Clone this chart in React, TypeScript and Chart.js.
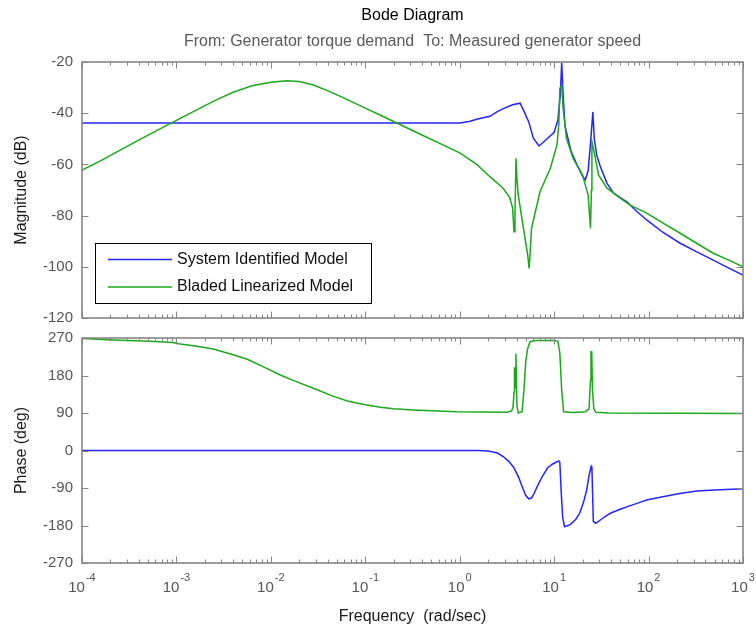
import React, { useEffect, useRef } from "react";
import { Chart, registerables } from "chart.js";

Chart.register(...registerables);

// ---------------- data (x values are log10 of frequency in rad/sec) ----------------
const magTicks = [-20, -40, -60, -80, -100, -120];
const phaseTicks = [270, 180, 90, 0, -90, -180, -270];
const decadeExponents = [-4, -3, -2, -1, 0, 1, 2, 3];

const seriesNames = ["System Identified Model", "Bladed Linearized Model"];

const sysIdMagLogW = [-4, 0, 0.1, 0.2, 0.32, 0.39, 0.45, 0.56, 0.64, 0.68, 0.73, 0.78, 0.84, 0.92, 1.0, 1.04, 1.065, 1.08, 1.095, 1.115, 1.18, 1.24, 1.3, 1.33, 1.36, 1.39, 1.41, 1.425, 1.45, 1.49, 1.56, 1.63, 1.7, 1.77, 1.85, 1.98, 2.15, 2.33, 2.5, 2.68, 2.85, 3.0];
const sysIdMagDb = [-43.8, -43.8, -43.2, -42.2, -41.2, -39.6, -38.4, -36.7, -36.1, -39.2, -43.3, -49.8, -52.8, -50.2, -47.5, -42.5, -33, -20.3, -33, -45, -55, -60, -64.5, -66, -62.5, -49.5, -39.5, -50, -56.3, -60.9, -67.4, -71.2, -73, -74.6, -77.5, -81.7, -86.5, -90.7, -94, -97.3, -100.5, -103.2];

const bladedMagLogW = [-4, -3.8, -3.6, -3.4, -3.2, -3.0, -2.8, -2.6, -2.4, -2.2, -2.0, -1.83, -1.7, -1.55, -1.4, -1.2, -1.0, -0.8, -0.6, -0.4, -0.2, 0.0, 0.18, 0.32, 0.46, 0.53, 0.56, 0.575, 0.585, 0.596, 0.605, 0.62, 0.675, 0.72, 0.735, 0.745, 0.76, 0.85, 0.96, 1.03, 1.05, 1.06, 1.08, 1.095, 1.13, 1.2, 1.3, 1.36, 1.385, 1.395, 1.4, 1.43, 1.47, 1.56, 1.7, 1.8, 1.98, 2.15, 2.33, 2.5, 2.68, 2.85, 3.0];
const bladedMagDb = [-62.2, -58.5, -54.5, -50.5, -46.6, -42.8, -39, -35.2, -31.8, -29.3, -27.9, -27.3, -27.6, -29, -31.2, -34.5, -38, -41.5, -45, -48.5, -52, -55.5, -60, -64.8, -69.3, -73, -77, -86.3, -80, -57.6, -65, -72, -85, -95.4, -100.6, -95, -85, -70.7, -61.5, -52.4, -44, -30.3, -29.2, -38, -49.8, -57.6, -64.1, -72, -85, -70, -51.1, -56.3, -64.1, -69.3, -73.2, -75.8, -79, -82.8, -86.8, -90.6, -94.6, -97.4, -100];

const sysIdPhaseLogW = [-4, 0.2, 0.3, 0.4, 0.46, 0.52, 0.57, 0.62, 0.67, 0.7, 0.73, 0.76, 0.79, 0.83, 0.88, 0.93, 0.98, 1.03, 1.05, 1.06, 1.075, 1.09, 1.11, 1.17, 1.23, 1.27, 1.31, 1.345, 1.37, 1.385, 1.392, 1.4, 1.415, 1.44, 1.5, 1.55, 1.6, 1.7, 1.8, 1.9, 1.98, 2.15, 2.33, 2.51, 2.7, 3.0];
const sysIdPhaseDeg = [0, 0, -1, -6, -14.5, -26, -40, -62, -92, -108, -116, -114, -102, -82, -60, -42, -33, -27, -25, -28, -100, -160, -182.9, -178, -165, -150.7, -125, -94.4, -60, -45, -38, -42, -170, -174.8, -165, -157, -150, -141, -133, -125, -119, -111, -103, -97, -95, -92];

const bladedPhaseLogW = [-4, -3.67, -3.28, -3.04, -2.96, -2.8, -2.61, -2.4, -2.25, -2.1, -1.9, -1.75, -1.55, -1.35, -1.19, -1.0, -0.84, -0.7, -0.49, -0.03, 0.5, 0.55, 0.565, 0.575, 0.58, 0.588, 0.595, 0.605, 0.62, 0.66, 0.68, 0.7, 0.72, 0.745, 0.8, 1.0, 1.04, 1.06, 1.08, 1.1, 1.2, 1.33, 1.37, 1.385, 1.39, 1.398, 1.405, 1.42, 1.44, 1.57, 3.0];
const bladedPhaseDeg = [269, 265, 262, 259, 255.6, 251, 243.6, 230, 218.9, 203, 181.2, 167, 149.3, 131, 118.8, 110, 103.7, 100, 97.2, 93.1, 92, 95, 105, 140, 200, 150, 232, 110, 90, 93, 145, 215, 245, 261, 264, 264, 262, 235, 145, 93, 91, 93, 100, 170, 237, 237, 150, 100, 92, 90, 89];

// ---------------- style / layout ----------------
const W = 756;
const H = 631;
const FONT = '"Liberation Sans", Arial, Helvetica, sans-serif';
const BLUE = "#2424ff";
const GREEN = "#1ca81c";
const FRAME = "#858585";
const TICK_TEXT = "#555555";
const LABEL_TEXT = "#1a1a1a";

const toPoints = (logW: number[], vals: number[]) =>
  logW.map((lw, i) => ({ x: Math.pow(10, lw), y: vals[i] }));

function drawAxesBox(chart: any, yTicks: number[]) {
  const { ctx, chartArea: a, scales } = chart;
  const xs = scales.x;
  const ys = scales.y;
  ctx.save();
  ctx.strokeStyle = FRAME;
  ctx.lineWidth = 1;
  ctx.beginPath();
  const dMin = decadeExponents[0];
  const dMax = decadeExponents[decadeExponents.length - 1];
  for (let d = dMin; d <= dMax; d++) {
    for (let k = 1; k <= 9; k++) {
      if (d === dMax && k > 1) break;
      const px = Math.round(xs.getPixelForValue(k * Math.pow(10, d))) + 0.5;
      const len = k === 1 ? 6.5 : 3.5;
      ctx.moveTo(px, a.top);
      ctx.lineTo(px, a.top + len);
      ctx.moveTo(px, a.bottom);
      ctx.lineTo(px, a.bottom - len);
    }
  }
  for (const t of yTicks) {
    const py = Math.round(ys.getPixelForValue(t)) + 0.5;
    ctx.moveTo(a.left, py);
    ctx.lineTo(a.left + 6.5, py);
    ctx.moveTo(a.right, py);
    ctx.lineTo(a.right - 6.5, py);
  }
  ctx.stroke();
  ctx.lineWidth = 1.6;
  ctx.strokeRect(a.left, a.top, a.right - a.left, a.bottom - a.top);
  ctx.fillStyle = TICK_TEXT;
  ctx.font = `15px ${FONT}`;
  ctx.textAlign = "right";
  ctx.textBaseline = "middle";
  for (const t of yTicks) {
    ctx.fillText(String(t), a.left - 9, ys.getPixelForValue(t));
  }
  ctx.restore();
}

function drawVerticalLabel(ctx: any, text: string, x: number, y: number) {
  ctx.save();
  ctx.translate(x, y);
  ctx.rotate(-Math.PI / 2);
  ctx.fillStyle = LABEL_TEXT;
  ctx.font = `16px ${FONT}`;
  ctx.textAlign = "center";
  ctx.textBaseline = "middle";
  ctx.fillText(text, 0, 0);
  ctx.restore();
}

const magDecor = {
  id: "magDecor",
  afterDraw(chart: any) {
    const { ctx, chartArea: a } = chart;
    drawAxesBox(chart, magTicks);
    const cx = (a.left + a.right) / 2;
    ctx.save();
    ctx.textAlign = "center";
    ctx.textBaseline = "middle";
    ctx.fillStyle = "#000";
    ctx.font = `16px ${FONT}`;
    ctx.fillText("Bode Diagram", cx, 16);
    ctx.fillStyle = "#5a5a5a";
    ctx.fillText("From: Generator torque demand  To: Measured generator speed", cx, 42);
    ctx.restore();
    drawVerticalLabel(ctx, "Magnitude (dB)", 22, (a.top + a.bottom) / 2);

    // legend
    const bx = 95, by = 243, bw = 276, bh = 60;
    ctx.save();
    ctx.fillStyle = "#fff";
    ctx.fillRect(bx, by, bw, bh);
    ctx.strokeStyle = "#000";
    ctx.lineWidth = 1;
    ctx.strokeRect(bx + 0.5, by + 0.5, bw, bh);
    const ds = chart.data.datasets;
    const rows = [ds[0], ds[1]];
    rows.forEach((d: any, i: number) => {
      const y = by + 16.5 + i * 27.5;
      ctx.strokeStyle = d.borderColor;
      ctx.lineWidth = 1.5;
      ctx.beginPath();
      ctx.moveTo(108, y);
      ctx.lineTo(172, y);
      ctx.stroke();
      ctx.fillStyle = "#111";
      ctx.font = `16px ${FONT}`;
      ctx.textAlign = "left";
      ctx.textBaseline = "middle";
      ctx.fillText(d.label, 177, y);
    });
    ctx.restore();
  },
};

const phaseDecor = {
  id: "phaseDecor",
  afterDraw(chart: any) {
    const { ctx, chartArea: a, scales } = chart;
    drawAxesBox(chart, phaseTicks);
    ctx.save();
    ctx.fillStyle = TICK_TEXT;
    ctx.textBaseline = "alphabetic";
    ctx.textAlign = "left";
    for (const d of decadeExponents) {
      const px = scales.x.getPixelForValue(Math.pow(10, d));
      ctx.font = `15px ${FONT}`;
      const wBase = ctx.measureText("10").width;
      ctx.font = `11px ${FONT}`;
      const expStr = String(d);
      const wExp = ctx.measureText(expStr).width;
      const x0 = px - (wBase + wExp + 1) / 2;
      ctx.font = `15px ${FONT}`;
      ctx.fillText("10", x0, a.bottom + 29);
      ctx.font = `11px ${FONT}`;
      ctx.fillText(expStr, x0 + wBase + 1, a.bottom + 18);
    }
    ctx.fillStyle = LABEL_TEXT;
    ctx.font = `16px ${FONT}`;
    ctx.textAlign = "center";
    ctx.textBaseline = "middle";
    ctx.fillText("Frequency  (rad/sec)", (a.left + a.right) / 2, 617);
    ctx.restore();
    drawVerticalLabel(ctx, "Phase (deg)", 22, (a.top + a.bottom) / 2);
  },
};

function makeOptions(padding: any, yMin: number, yMax: number) {
  return {
    responsive: false,
    animation: false,
    devicePixelRatio: 1,
    events: [],
    layout: { padding },
    plugins: {
      legend: { display: false },
      tooltip: { enabled: false },
      title: { display: false },
    },
    scales: {
      x: { type: "logarithmic", min: 1e-4, max: 1e3, display: false },
      y: { type: "linear", min: yMin, max: yMax, display: false },
    },
    elements: { point: { radius: 0 }, line: { borderWidth: 1.5, tension: 0 } },
  };
}

export default function App() {
  const magRef = useRef<HTMLCanvasElement>(null);
  const phRef = useRef<HTMLCanvasElement>(null);

  useEffect(() => {
    const magChart = new Chart(magRef.current as HTMLCanvasElement, {
      type: "line",
      data: {
        datasets: [
          { label: seriesNames[0], data: toPoints(sysIdMagLogW, sysIdMagDb), borderColor: BLUE, order: 2 },
          { label: seriesNames[1], data: toPoints(bladedMagLogW, bladedMagDb), borderColor: GREEN, order: 1 },
        ],
      },
      options: makeOptions({ left: 82, right: W - 743, top: 62, bottom: H - 318 }, -120, -20) as any,
      plugins: [magDecor],
    });
    const phChart = new Chart(phRef.current as HTMLCanvasElement, {
      type: "line",
      data: {
        datasets: [
          { label: seriesNames[0], data: toPoints(sysIdPhaseLogW, sysIdPhaseDeg), borderColor: BLUE, order: 2 },
          { label: seriesNames[1], data: toPoints(bladedPhaseLogW, bladedPhaseDeg), borderColor: GREEN, order: 1 },
        ],
      },
      options: makeOptions({ left: 82, right: W - 743, top: 338, bottom: H - 563 }, -270, 270) as any,
      plugins: [phaseDecor],
    });
    return () => {
      magChart.destroy();
      phChart.destroy();
    };
  }, []);

  return (
    <div style={{ position: "fixed", left: 0, top: 0, width: W, height: H, background: "#fff" }}>
      <canvas ref={magRef} width={W} height={H} style={{ position: "absolute", left: 0, top: 0 }} />
      <canvas ref={phRef} width={W} height={H} style={{ position: "absolute", left: 0, top: 0 }} />
    </div>
  );
}
